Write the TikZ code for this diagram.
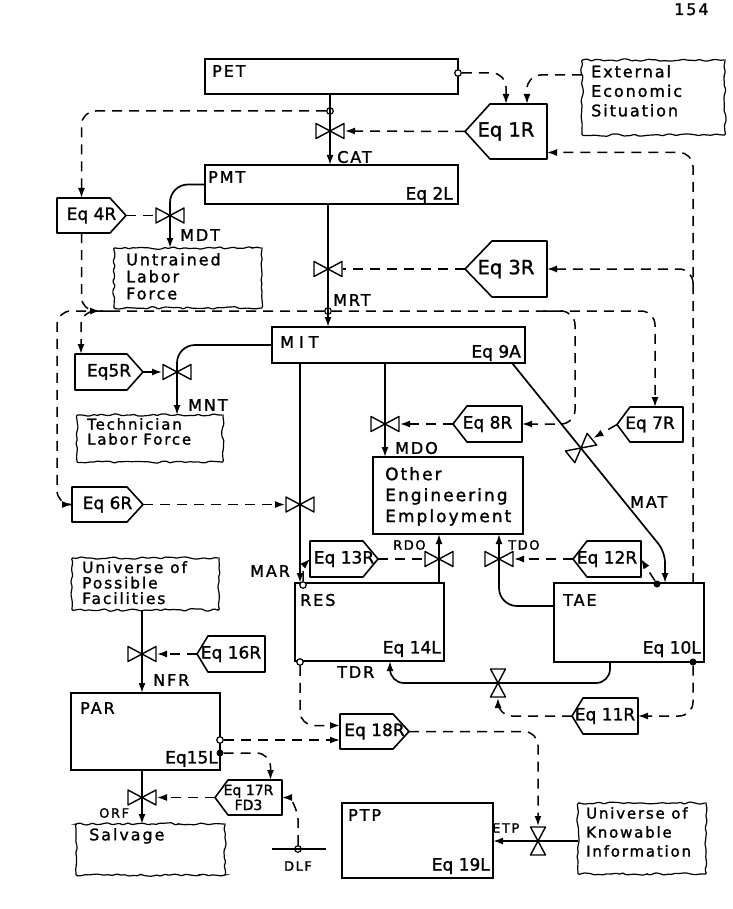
\documentclass[tikz,border=0pt]{standalone}
\usepackage{fontspec}
\newfontfamily\handfont[LetterSpace=12,FakeBold=1.4]{DejaVu Sans}
\newfontfamily\eqfontfam[FakeBold=1.4]{DejaVu Sans}
\usetikzlibrary{arrows.meta,decorations.pathmorphing,calc}
\newcommand\labf{\handfont\fontsize{16}{19}\selectfont}
\newcommand\smlabf{\handfont\fontsize{13}{15}\selectfont}
\newcommand\eqf{\eqfontfam\fontsize{17}{17}\selectfont}
\newcommand\eqsmf{\eqfontfam\fontsize{14}{15}\selectfont}
\newcommand\eqbigf{\eqfontfam\fontsize{19.5}{22}\selectfont}
\tikzset{
  lvlbox/.style={draw, line width=1.6pt, inner sep=0pt, outer sep=0pt},
  cloudb/.style={draw, line width=1.2pt, inner sep=0pt, outer sep=0pt, decorate, decoration={random steps, segment length=4pt, amplitude=1.3pt}, rounded corners=1.2pt},
  eqline/.style={line width=1.6pt, line join=round},
  eqtext/.style={inner sep=0pt, outer sep=0pt, align=center},
  valveline/.style={line width=1.4pt, line join=round},
  flow/.style={line width=1.7pt, rounded corners=16pt},
  info/.style={line width=1.5pt, dash pattern=on 10pt off 7pt, rounded corners=14pt},
  arr/.style={-{Latex[length=10pt,width=7pt]}},
  txt/.style={font=\labf, inner sep=0pt, anchor=west},
  txte/.style={font=\eqf, inner sep=0pt, anchor=east},
  cltxt/.style={inner sep=0pt, anchor=north west, align=left},
  pick/.style={circle, draw, fill=white, line width=1.2pt, inner sep=0pt, minimum size=6.5pt},
  pickf/.style={circle, fill, inner sep=0pt, minimum size=7pt},
  pics/valve/.style={code={\draw[valveline] (0,0) -- (-14,-7.5) -- (-14,7.5) -- cycle (0,0) -- (14,-7.5) -- (14,7.5) -- cycle;}},
}
\newcommand\lvlnode[5]{\node[lvlbox, minimum width={(#4-#2)*1pt}, minimum height={(#5-#3)*1pt}] (#1) at ({(#2+#4)/2},{(#3+#5)/2}) {};}
\newcommand\cloudnode[5]{\node[cloudb, minimum width={(#4-#2)*1pt}, minimum height={(#5-#3)*1pt}] (#1) at ({(#2+#4)/2},{(#3+#5)/2}) {};}
\newcommand\eqleft[8]{%
  \draw[eqline] (#2,{(#5+#6)/2}) -- (#3,#5) -- (#4,#5) -- (#4,#6) -- (#3,#6) -- cycle;
  \node[eqtext, font=#7, minimum width={(#4-#2)*1pt}, minimum height={(#6-#5)*1pt}] (#1) at ({(#2+#4)/2},{(#5+#6)/2}) {#8};}
\newcommand\eqright[8]{%
  \draw[eqline] (#2,#5) -- (#3,#5) -- (#4,{(#5+#6)/2}) -- (#3,#6) -- (#2,#6) -- cycle;
  \node[eqtext, font=#7, minimum width={(#4-#2)*1pt}, minimum height={(#6-#5)*1pt}] (#1) at ({(#2+#4)/2},{(#5+#6)/2}) {#8};}
\begin{document}
\begin{tikzpicture}[x=1pt,y=-1pt]
\useasboundingbox (0,0) rectangle (732,909);
\fill[white] (0,0) rectangle (732,909);
\pgfmathsetseed{7}

% page number
\node[font=\labf, inner sep=0pt, anchor=base west] (pgno) at (674,15) {154};

% ---------- levels ----------
\lvlnode{PET}{205}{59}{458}{94}
\lvlnode{PMT}{205}{165}{458}{204}
\lvlnode{MIT}{272}{327}{525}{363}
\lvlnode{OEE}{373}{457}{523}{534}
\lvlnode{RES}{295}{583}{444}{661}
\lvlnode{TAE}{554}{583}{704}{662}
\lvlnode{PAR}{71}{693}{220}{770}
\lvlnode{PTP}{342}{803}{493}{878}

\node[txt] (PETt) at (212,71) {PET};
\node[txt] (PMTt) at (208,177) {PMT};
\node[txte] (PMTe) at (453,195) {Eq 2L};
\node[txt] (MITt) at (280,342) {M\hspace{5pt}I\hspace{5pt}T};
\node[txte] (MITe) at (521,353) {Eq 9A};
\node[cltxt, font={\handfont\fontsize{17}{21}\selectfont}] (OEEt) at (385,467) {Other\\Engineering\\Employment};
\node[txt] (REst) at (300,600) {RES};
\node[txte] (RESe) at (441,649) {Eq 14L};
\node[txt] (TAEt) at (563,600) {TAE};
\node[txte] (TAEe) at (701,649) {Eq 10L};
\node[txt] (PARt) at (80,708) {PAR};
\node[txte] (PARe) at (218,759) {Eq15L};
\node[txt] (PTPt) at (348,815) {PTP};
\node[txte] (PTPe) at (490,866) {Eq 19L};

% ---------- clouds ----------
\cloudnode{EES}{582}{60}{725}{135}
\node[cltxt, font={\handfont\fontsize{16}{19.5}\selectfont}] (EESt) at (591,65) {External\\Economic\\Situation};
\cloudnode{ULF}{114}{248}{262}{308}
\node[cltxt, font={\handfont\fontsize{16}{17}\selectfont}] (ULFt) at (126,253) {Untrained\\Labor\\Force};
\cloudnode{TLF}{77}{415}{223}{462}
\node[cltxt, font={\handfont\fontsize{15}{15}\selectfont}] (TLFt) at (87,418) {Technician\\Labor Force};
\cloudnode{UPF}{72}{558}{219}{610}
\node[cltxt, font={\handfont\fontsize{15.5}{15.5}\selectfont}] (UPFt) at (82,561) {Universe of\\Possible\\Facilities};
\cloudnode{SAL}{76}{824}{225}{875}
\node[cltxt, font={\handfont\fontsize{16}{18}\selectfont}] (SALt) at (89,828) {Salvage};
\cloudnode{UKI}{578}{803}{706}{874}
\node[cltxt, font={\handfont\fontsize{15}{19}\selectfont}] (UKIt) at (586,807) {Universe of\\Knowable\\Information};

% ---------- equations ----------
\eqleft{eq1}{465}{490}{547}{104}{159}{\eqbigf}{Eq 1R}
\eqleft{eq3}{465}{492}{547}{241}{297}{\eqbigf}{Eq 3R}
\eqright{eq4}{57}{110}{126}{198}{233}{\eqf}{Eq 4R}
\eqright{eq5}{75}{127}{143}{354}{390}{\eqf}{Eq5R}
\eqright{eq6}{72}{127}{143}{487}{522}{\eqf}{Eq 6R}
\eqleft{eq7}{617}{630}{683}{407}{442}{\eqf}{Eq 7R}
\eqleft{eq8}{453}{467}{522}{406}{442}{\eqf}{Eq 8R}
\eqleft{eq11}{572}{583}{638}{698}{734}{\eqf}{Eq 11R}
\eqleft{eq12}{573}{587}{641}{541}{577}{\eqf}{Eq 12R}
\eqright{eq13}{310}{363}{378}{541}{577}{\eqf}{Eq 13R}
\eqleft{eq16}{197}{208}{265}{636}{672}{\eqf}{Eq 16R}
\eqleft{eq17}{215}{228}{282}{780}{815}{\eqsmf}{Eq 17R\\FD3}
\eqright{eq18}{340}{393}{409}{714}{749}{\eqf}{Eq 18R}

% ---------- valves ----------
\coordinate (vCAT) at (330,131);
\coordinate (vMDT) at (170,215.5);
\coordinate (vMRT) at (328,269);
\coordinate (vMNT) at (177,372);
\coordinate (vMDO) at (385,424);
\coordinate (vMAR) at (300,504.5);
\coordinate (vMAT) at (581,448);
\coordinate (vRDO) at (439,559);
\coordinate (vTDO) at (499,559);
\coordinate (vTDR) at (498,683);
\coordinate (vNFR) at (142,654);
\coordinate (vORF) at (142,797.5);
\coordinate (vETP) at (538,841);
\coordinate (matbend) at (665,552);
\foreach \v in {vCAT,vMDT,vMRT,vMNT,vMDO,vMAR,vRDO,vTDO,vNFR,vORF} {\pic at (\v) {valve};}
\pic[rotate=90] at (vTDR) {valve};
\pic[rotate=90] at (vETP) {valve};
\pic[rotate=39] at (vMAT) {valve};

% ---------- information pick-offs ----------
\node[pick] (cPET) at (458,73) {};
\node[pick] (cCAT) at (330,111) {};
\node[pick] (cMRT) at (328,311) {};
\node[pick] (cRES) at (303,585) {};
\node[pickf] (cTAE1) at (657,584) {};
\node[pickf] (cTAE2) at (693,662) {};
\node[pick] (cRESb) at (300,662) {};
\node[pick] (cPAR1) at (220,740) {};
\node[pickf] (cPAR2) at (220,753) {};
\node[pick] (cDLF) at (298,849) {};
\coordinate (dlfA) at (272,849);
\coordinate (dlfB) at (326,849);

% ---------- material flows ----------
\draw[flow,arr] (vCAT |- PET.south) -- (vCAT |- PMT.north);
\draw[flow,arr,rounded corners=18pt] (PMT.west) -| (vMDT |- ULF.north);
\draw[flow,arr] (vMRT |- PMT.south) -- (vMRT |- MIT.north);
\draw[flow,arr,rounded corners=18pt] (MIT.west) -| (vMNT |- TLF.north);
\draw[flow,arr] (vMDO |- MIT.south) -- (vMDO |- OEE.north);
\draw[flow,arr] (vMAR |- MIT.south) -- (vMAR |- RES.north);
\draw[flow,arr,rounded corners=10pt] ($(MIT.south east)+(-13,0)$) -- (matbend) -- (matbend |- TAE.north);
\draw[flow,arr] (vRDO |- RES.north) -- (vRDO |- OEE.south);
\draw[flow,arr,rounded corners=18pt] ($(TAE.north west)+(0,23)$) -| (vTDO |- OEE.south);
\draw[flow,arr,rounded corners=14pt] ($(TAE.south west)+(56,0)$) -- ++(0,21) -| ($(RES.south west)+(95,0)$);
\draw[flow,arr] (vNFR |- UPF.south) -- (vNFR |- PAR.north);
\draw[flow,arr] (vORF |- PAR.south) -- (vORF |- SAL.north);
\draw[flow,arr] (UKI.west |- vETP) -- (PTP.east |- vETP);
\draw[flow] (dlfA) -- (dlfB);

% ---------- information links ----------
\draw[info,arr] (cPET) -| (eq1.north);
\draw[info,arr] ($(EES.north west)+(0,15)$) -| ($(eq1.north)+(21,0)$);
\draw[info,arr] (eq1.west) -- ($(vCAT)+(15,0)$);
\draw[info,arr] (cCAT) -| ($(eq4.north)+(-10,0)$);
\draw[info] (eq4.east) -- ($(vMDT)+(-15,0)$);
\draw[info,arr] ($(TAE.north east)+(-11,0)$) |- ($(eq1.east)+(0,21)$);
\draw[info,arr] ($(TAE.north east)+(-11,-299)$) |- (eq3.east);
\draw[info] (eq3.west) -- ($(vMRT)+(15,0)$);
\draw[info,arr] (cMRT) -| ($(eq7.north)+(5,0)$);
\draw[info,arr] ($(cMRT)+(215,0)$) -| ($(eq8.east)+(53,0)$) -- (eq8.east);
\draw[info,arr] (cMRT) -| ($(eq6.west)+(-15,0)$) -- (eq6.west);
\draw[info,arr] ($(cMRT)+(-218,0)$) -| ($(eq5.north)+(-28,0)$);
\draw[info,arr] ($(eq4.south)+(-10,0)$) |- ($(cMRT)+(-228,0)$);
\draw[info,arr] (eq5.east) -- ($(vMNT)+(-15,0)$);
\draw[info,arr] (eq6.east) -- ($(vMAR)+(-15,0)$);
\draw[info,arr] (eq8.west) -- ($(vMDO)+(15,0)$);
\draw[info,arr] (eq7.west) -- ($(vMAT)+(39:16pt)$);
\draw[info,arr,rounded corners=0pt] (cRES.north) .. controls (303,566) .. (eq13.west);
\draw[info] (eq13.east) -- ($(vRDO)+(-15,0)$);
\draw[info,arr] (eq12.west) -- ($(vTDO)+(15,0)$);
\draw[info,arr] (cTAE1) -- (eq12.east);
\draw[info,arr] (cTAE2) |- (eq11.east);
\draw[info,arr] (eq11.west) -| ($(vTDR)+(0,15)$);
\draw[info,arr] (cRESb) |- ($(eq18.west)+(0,-6)$);
\draw[info,arr] (cPAR1) -- (cPAR1 -| eq18.west);
\draw[info,arr] (cPAR2) -| ($(eq17.north)+(22,0)$);
\draw[info,arr] (eq17.west) -- ($(vORF)+(15,0)$);
\draw[info,arr,rounded corners=0pt] (cDLF) -- ++(0,-30) .. controls +(0,-8) and +(8,0) .. (eq17.east);
\draw[info,arr] (eq16.west) -- ($(vNFR)+(15,0)$);
\draw[info,arr] (eq18.east) -| ($(vETP)+(0,-15)$);

% ---------- rate labels ----------
\node[txt] (lCAT) at (337,157) {CAT};
\node[txt] (lMDT) at (180,235) {MDT};
\node[txt] (lMRT) at (333,300) {MRT};
\node[txt] (lMNT) at (188,405) {MNT};
\node[txt] (lMDO) at (395,448) {MDO};
\node[txt] (lMAT) at (630,502) {MAT};
\node[txt] (lMAR) at (250,571) {MAR};
\node[txt, font=\smlabf] (lRDO) at (393,545) {RDO};
\node[txt, font=\smlabf] (lTDO) at (508,545) {TDO};
\node[txt] (lTDR) at (337,672) {TDR};
\node[txt] (lNFR) at (153,680) {NFR};
\node[txt, font=\smlabf] (lORF) at (99,813) {ORF};
\node[txt, font=\smlabf] (lETP) at (492,828) {ETP};
\node[font=\smlabf, inner sep=0pt] (lDLF) at (298,866) {DLF};
\end{tikzpicture}
\end{document}
